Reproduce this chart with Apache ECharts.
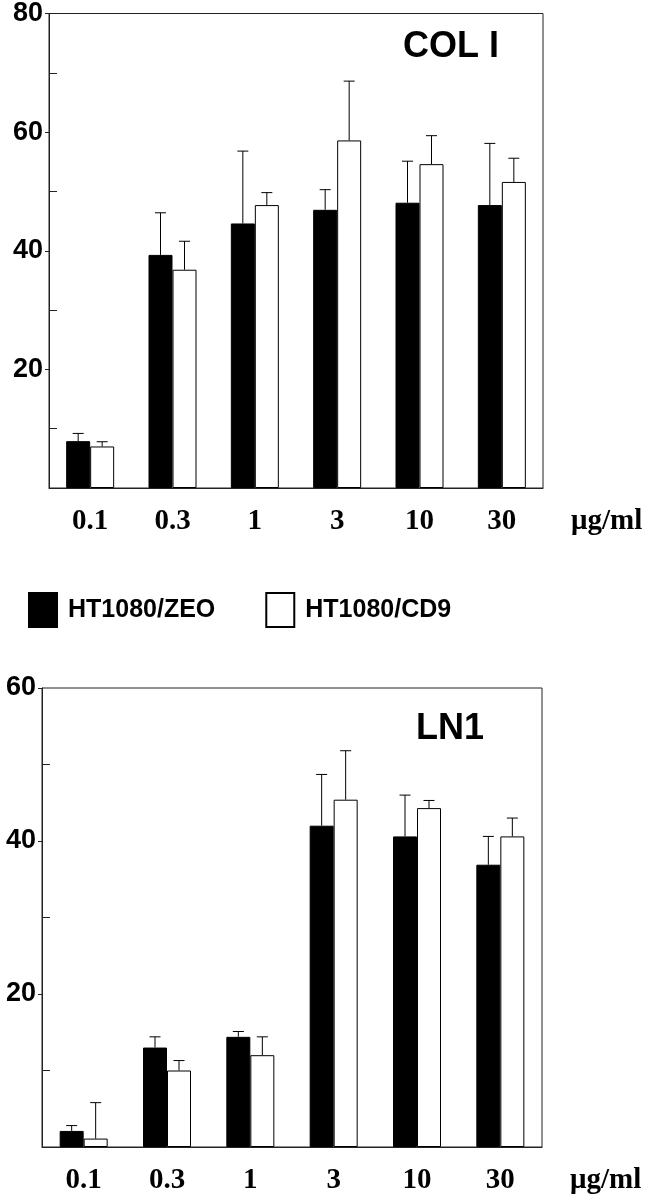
<!DOCTYPE html>
<html>
<head>
<meta charset="utf-8">
<script src="https://cdn.jsdelivr.net/npm/echarts@6/dist/echarts.min.js"></script>
<style>
  html, body { margin: 0; padding: 0; background: #fff; }
  #chart { width: 652px; height: 1199px; }
</style>
</head>
<body>
<div id="chart"></div>
<script>
const categories = ['0.1', '0.3', '1', '3', '10', '30']

// COL I panel
const colZeo = [7.9, 39.3, 44.6, 46.9, 48.1, 47.7]
const colZeoSd = [1.3, 7.1, 12.2, 3.4, 7.0, 10.4]
const colCd9 = [7.0, 36.8, 47.7, 58.6, 54.6, 51.6]
const colCd9Sd = [0.8, 4.8, 2.1, 10.0, 4.8, 4.0]

// LN1 panel
const lnZeo = [2.1, 13.0, 14.4, 42.0, 40.6, 36.9]
const lnZeoSd = [0.7, 1.4, 0.7, 6.7, 5.4, 3.7]
const lnCd9 = [1.1, 10.0, 12.0, 45.4, 44.3, 40.6]
const lnCd9Sd = [4.7, 1.3, 2.4, 6.4, 1.0, 2.4]

const colMinor = [10, 30, 50, 70]
const lnMinor = [10, 30, 50]

const BAR_W = 24
const sans = "'Liberation Sans', Arial, sans-serif"
const serif = "'Liberation Serif', 'Times New Roman', serif"

const chart = echarts.init(document.getElementById('chart'))

// upward error bar with a small cap, drawn at the bar's centre
const errSeries = (name, gridIdx, vals, sds, offset) => ({
  name,
  type: 'custom',
  xAxisIndex: gridIdx,
  yAxisIndex: gridIdx * 2,
  silent: true,
  z: 5,
  data: vals.map((v, i) => [i, v, v + sds[i]]),
  renderItem: (params, api) => {
    const p0 = api.coord([api.value(0), api.value(1)])
    const p1 = api.coord([api.value(0), api.value(2)])
    const x = p0[0] + offset
    const style = { stroke: '#000', lineWidth: 1 }
    return {
      type: 'group',
      children: [
        { type: 'line', shape: { x1: x, y1: p0[1], x2: x, y2: p1[1] }, style },
        { type: 'line', shape: { x1: x - 5.5, y1: p1[1], x2: x + 5.5, y2: p1[1] }, style }
      ]
    }
  }
})

const xAxisFor = (gridIdx) => ({
  type: 'category',
  gridIndex: gridIdx,
  data: categories,
  axisLine: { lineStyle: { color: '#222', width: 1 } },
  axisTick: { show: false },
  axisLabel: {
    margin: 19,
    fontFamily: serif,
    fontWeight: 'bold',
    fontSize: 29,
    color: '#000'
  },
  name: 'μg/ml',
  nameLocation: 'end',
  nameGap: 28,
  nameTextStyle: {
    fontFamily: serif,
    fontWeight: 'bold',
    fontSize: 29,
    color: '#000',
    verticalAlign: 'top',
    padding: [19, 0, 0, 0]
  }
})

const yAxesFor = (gridIdx, max, minor) => ([
  {
    type: 'value',
    gridIndex: gridIdx,
    min: 0,
    max,
    interval: 20,
    splitLine: { show: false },
    axisLine: { show: true, lineStyle: { color: '#222', width: 1 } },
    axisTick: { show: true, length: 4, lineStyle: { color: '#222' } },
    axisLabel: {
      showMinLabel: false,
      margin: 6,
      fontFamily: sans,
      fontWeight: 'bold',
      fontSize: 27,
      color: '#000'
    }
  },
  {
    type: 'value',
    gridIndex: gridIdx,
    position: 'left',
    min: 0,
    max,
    interval: 10,
    splitLine: { show: false },
    axisLine: { show: false },
    axisLabel: { show: false },
    axisTick: {
      show: true,
      inside: true,
      length: 8,
      customValues: minor,
      lineStyle: { color: '#222' }
    }
  }
])

const barSeries = (name, gridIdx, vals, fill) => ({
  name,
  type: 'bar',
  xAxisIndex: gridIdx,
  yAxisIndex: gridIdx * 2,
  barWidth: BAR_W,
  barGap: '0%',
  data: vals,
  itemStyle: { color: fill, borderColor: '#000', borderWidth: 1 },
  emphasis: { disabled: true }
})

const option = {
  animation: false,
  backgroundColor: '#fff',
  title: [
    {
      text: 'COL I',
      left: 403,
      top: 29,
      padding: 0,
      textStyle: { fontFamily: sans, fontWeight: 'bold', fontSize: 36, color: '#000' }
    },
    {
      text: 'LN1',
      left: 416,
      top: 711,
      padding: 0,
      textStyle: { fontFamily: sans, fontWeight: 'bold', fontSize: 36, color: '#000' }
    }
  ],
  legend: {
    data: ['HT1080/ZEO', 'HT1080/CD9'],
    left: 28,
    top: 592,
    padding: 0,
    itemGap: 50,
    itemWidth: 28,
    itemHeight: 34,
    icon: 'rect',
    selectedMode: false,
    textStyle: {
      fontFamily: sans,
      fontWeight: 'bold',
      fontSize: 25,
      color: '#000',
      padding: [2, 0, 0, 6]
    }
  },
  grid: [
    { left: 49, top: 12, right: 109, bottom: 711, show: true, borderColor: '#222', borderWidth: 1, backgroundColor: 'transparent' },
    { left: 42, top: 688, right: 110, bottom: 52, show: true, borderColor: '#222', borderWidth: 1, backgroundColor: 'transparent' }
  ],
  xAxis: [xAxisFor(0), xAxisFor(1)],
  yAxis: [...yAxesFor(0, 80, colMinor), ...yAxesFor(1, 60, lnMinor)],
  series: [
    barSeries('HT1080/ZEO', 0, colZeo, '#000'),
    barSeries('HT1080/CD9', 0, colCd9, '#fff'),
    errSeries('colZeoErr', 0, colZeo, colZeoSd, -BAR_W / 2),
    errSeries('colCd9Err', 0, colCd9, colCd9Sd, BAR_W / 2),
    barSeries('HT1080/ZEO', 1, lnZeo, '#000'),
    barSeries('HT1080/CD9', 1, lnCd9, '#fff'),
    errSeries('lnZeoErr', 1, lnZeo, lnZeoSd, -BAR_W / 2),
    errSeries('lnCd9Err', 1, lnCd9, lnCd9Sd, BAR_W / 2)
  ]
}

chart.setOption(option)

window.addEventListener('resize', () => {
  chart.resize()
})
</script>
</body>
</html>
